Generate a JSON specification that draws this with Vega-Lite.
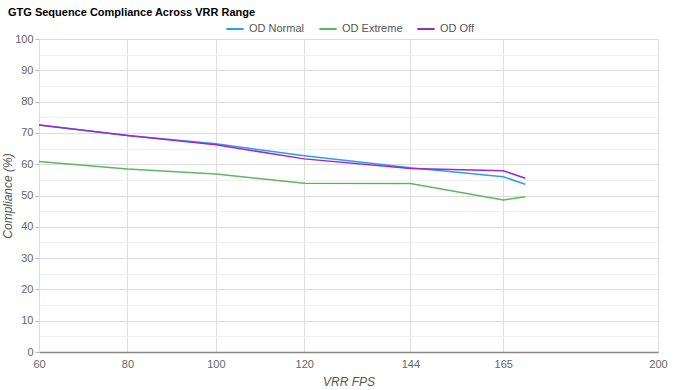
{
  "$schema": "https://vega.github.io/schema/vega-lite/v6.json",
  "width": 619,
  "height": 313,
  "autosize": "none",
  "padding": {"left": 39, "top": 39, "right": 17, "bottom": 38},
  "background": "white",
  "title": {
    "text": "GTG Sequence Compliance Across VRR Range",
    "anchor": "start",
    "frame": "group",
    "dx": -31,
    "offset": 1,
    "fontSize": 11,
    "fontWeight": "bold",
    "font": "Liberation Sans",
    "color": "#000"
  },
  "config": {
    "font": "Liberation Sans",
    "view": {"stroke": null}
  },
  "data": {
    "values": [
      {"fps": 60, "series": "OD Normal", "value": 72.5},
      {"fps": 80, "series": "OD Normal", "value": 69.2},
      {"fps": 100, "series": "OD Normal", "value": 66.5},
      {"fps": 120, "series": "OD Normal", "value": 62.7},
      {"fps": 144, "series": "OD Normal", "value": 58.9},
      {"fps": 165, "series": "OD Normal", "value": 56.0},
      {"fps": 170, "series": "OD Normal", "value": 53.6},
      {"fps": 60, "series": "OD Extreme", "value": 60.9},
      {"fps": 80, "series": "OD Extreme", "value": 58.5},
      {"fps": 100, "series": "OD Extreme", "value": 56.9},
      {"fps": 120, "series": "OD Extreme", "value": 53.9},
      {"fps": 144, "series": "OD Extreme", "value": 53.8},
      {"fps": 165, "series": "OD Extreme", "value": 48.6},
      {"fps": 170, "series": "OD Extreme", "value": 49.6},
      {"fps": 60, "series": "OD Off", "value": 72.5},
      {"fps": 80, "series": "OD Off", "value": 69.2},
      {"fps": 100, "series": "OD Off", "value": 66.2},
      {"fps": 120, "series": "OD Off", "value": 61.7},
      {"fps": 144, "series": "OD Off", "value": 58.6},
      {"fps": 165, "series": "OD Off", "value": 57.9},
      {"fps": 170, "series": "OD Off", "value": 55.5}
    ]
  },
  "mark": {"type": "line", "strokeWidth": 1.5, "clip": true},
  "encoding": {
    "x": {
      "field": "fps",
      "type": "quantitative",
      "scale": {"domain": [60, 200], "nice": false, "zero": false},
      "axis": {
        "title": "VRR FPS",
        "titleFontStyle": "italic",
        "titleFontWeight": "normal",
        "titleFontSize": 12,
        "titleColor": "#555",
        "titlePadding": 7,
        "values": [60, 80, 100, 120, 144, 165, 200],
        "labelFlush": false,
        "labelColor": "#666",
        "labelFontSize": 11,
        "labelPadding": 6,
        "gridColor": "#ddd",
        "domainColor": "#888",
        "domainWidth": 1.5,
        "ticks": false
      }
    },
    "y": {
      "field": "value",
      "type": "quantitative",
      "scale": {"domain": [0, 100], "nice": false},
      "axis": {
        "title": "Compliance (%)",
        "titleFontStyle": "italic",
        "titleFontWeight": "normal",
        "titleFontSize": 12,
        "titleColor": "#555",
        "titlePadding": 0,
        "values": [0, 5, 10, 15, 20, 25, 30, 35, 40, 45, 50, 55, 60, 65, 70, 75, 80, 85, 90, 95, 100],
        "labelExpr": "datum.value % 10 === 0 ? datum.label : ''",
        "labelColor": "#666",
        "labelFontSize": 11,
        "labelPadding": 2,
        "gridColor": {"condition": {"test": "datum.value % 10 === 0", "value": "#dcdcdc"}, "value": "#efefef"},
        "tickColor": {"condition": {"test": "datum.value % 10 === 0", "value": "#bbb"}, "value": "transparent"},
        "tickSize": 4,
        "domainColor": "#ddd"
      }
    },
    "color": {
      "field": "series",
      "type": "nominal",
      "scale": {
        "domain": ["OD Normal", "OD Extreme", "OD Off"],
        "range": ["#2a9df4", "#5cb85c", "#9c27d0"]
      },
      "legend": {
        "title": null,
        "orient": "none",
        "legendX": 186,
        "legendY": -20,
        "direction": "horizontal",
        "symbolType": "stroke",
        "symbolSize": 300,
        "symbolStrokeWidth": 2,
        "labelFontSize": 11,
        "labelColor": "#555",
        "columnPadding": 10
      }
    }
  }
}
